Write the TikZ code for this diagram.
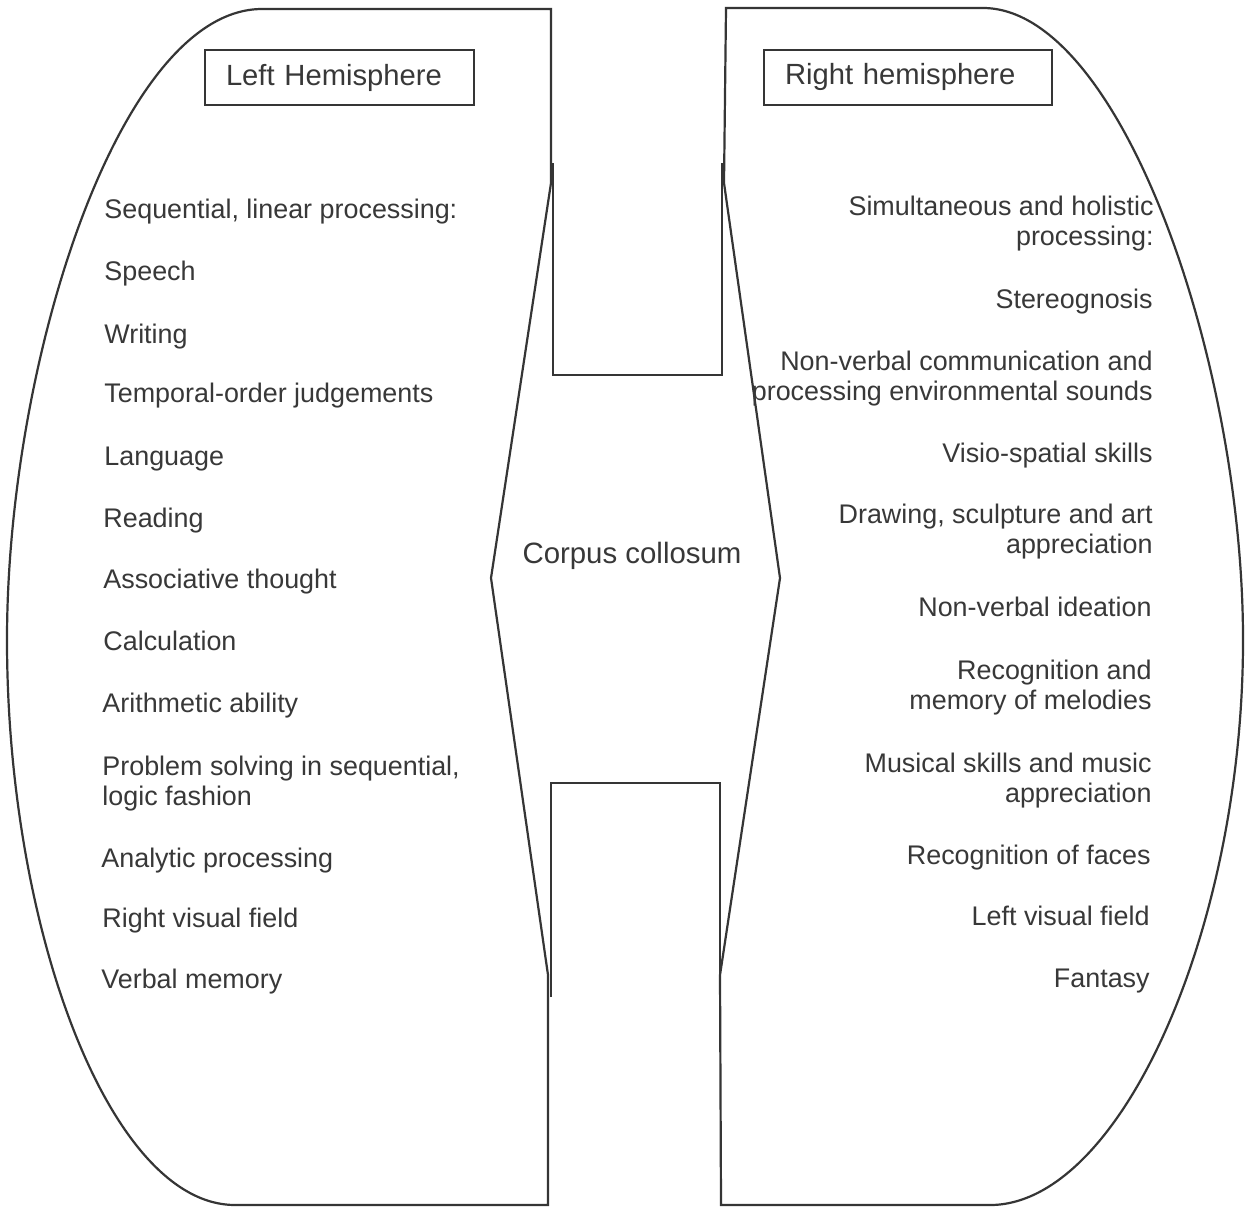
\documentclass[tikz,border=0pt]{standalone}
\usepackage{fontspec}
\setmainfont{Liberation Sans}
\definecolor{linegray}{HTML}{353535}
\definecolor{inkgray}{HTML}{383838}
\begin{document}
\begin{tikzpicture}[x=0.5pt,y=-0.5pt,
  outline/.style={draw=linegray, line width=1.1pt, line join=miter},
  item/.style={inner sep=0pt, text=inkgray, font=\fontsize{13.45}{15}\selectfont},
  litem/.style={item, anchor=base west, align=left},
  ritem/.style={item, anchor=base east, align=right},
  titlebox/.style={draw=linegray, line width=1pt, text=inkgray,
    font=\fontsize{14.6}{17}\selectfont, inner xsep=10.5pt, inner ysep=0pt,
    minimum height=27.5pt, align=left}]
\fill[white] (0,0) rectangle (1245,1206);
\useasboundingbox (0,0) rectangle (1245,1206);

% left hemisphere outline
\draw[outline] (262,9) -- (551,9) -- (551,183) -- (491,578) -- (548,975)
  -- (548,1205) -- (235,1205)
  .. controls (110,1205) and (7,930) .. (7,640)
  .. controls (7,360) and (120,9) .. (262,9) -- cycle;

% right hemisphere outline
\draw[outline] (983,8) -- (726,8) -- (724,183) -- (780,578) -- (720,975)
  -- (721,1205) -- (990,1205)
  .. controls (1120,1205) and (1243,930) .. (1243,640)
  .. controls (1243,360) and (1120,8) .. (983,8) -- cycle;

% corpus callosum: upper and lower channels
\draw[outline] (553,163) -- (553,375) -- (722,375) -- (722,163);
\draw[outline] (551,997) -- (551,783) -- (720,783) -- (720,997);

% titles
\node[titlebox, text width=113.5pt] (lt) at (339.5,77.5) {Left Hemisphere};
\node[titlebox, text width=123pt] (rt) at (908,77) {Right hemisphere};

\node[item, anchor=base, font=\fontsize{14.7}{17}\selectfont] (cc) at (632,563) {Corpus collosum};

% left hemisphere functions (multi-line nodes sit on their last baseline)
\node[litem] (l1)  at (104,218) {Sequential, linear processing:};
\node[litem] (l2)  at (104,280) {Speech};
\node[litem] (l3)  at (104,343) {Writing};
\node[litem] (l4)  at (104,402) {Temporal-order judgements};
\node[litem] (l5)  at (104,465) {Language};
\node[litem] (l6)  at (103,527) {Reading};
\node[litem] (l7)  at (103,588) {Associative thought};
\node[litem] (l8)  at (103,650) {Calculation};
\node[litem] (l9)  at (102,712) {Arithmetic ability};
\node[litem] (l10) at (102,805) {Problem solving in sequential,\\logic fashion};
\node[litem] (l11) at (101,867) {Analytic processing};
\node[litem] (l12) at (102,927) {Right visual field};
\node[litem] (l13) at (101,988) {Verbal memory};

% right hemisphere functions
\node[ritem] (r1)  at (1154,245) {Simultaneous and holistic\\processing:};
\node[ritem] (r2)  at (1153,308) {Stereognosis};
\node[ritem] (r3)  at (1153,400) {Non-verbal communication and\\processing environmental sounds};
\node[ritem] (r4)  at (1153,462) {Visio-spatial skills};
\node[ritem] (r5)  at (1153,553) {Drawing, sculpture and art\\appreciation};
\node[ritem] (r6)  at (1152,616) {Non-verbal ideation};
\node[ritem] (r7)  at (1152,709) {Recognition and\\memory of melodies};
\node[ritem] (r8)  at (1152,802) {Musical skills and music\\appreciation};
\node[ritem] (r9)  at (1151,864) {Recognition of faces};
\node[ritem] (r10) at (1150,925) {Left visual field};
\node[ritem] (r11) at (1150,987) {Fantasy};
\end{tikzpicture}
\end{document}
